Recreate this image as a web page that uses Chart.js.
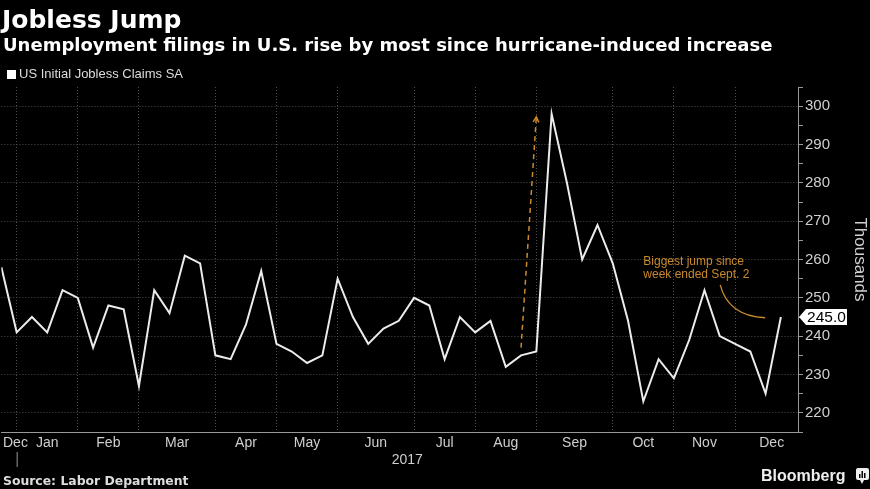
<!DOCTYPE html>
<html><head><meta charset="utf-8">
<script src="https://cdn.jsdelivr.net/npm/chart.js@4/dist/chart.umd.min.js"></script>
<style>
html,body{margin:0;padding:0;background:#000;width:870px;height:489px;overflow:hidden;}
#wrap{position:relative;width:870px;height:489px;background:#000;}
canvas{position:absolute;left:0;top:0;}
.t{position:absolute;white-space:nowrap;line-height:1;}
</style></head><body>
<div id="wrap">
<canvas id="c" width="870" height="489"></canvas>
<div class="t" id="title" style="left:2px;top:5px;font:bold 25px 'DejaVu Sans',sans-serif;color:#fff;">Jobless Jump</div>
<div class="t" id="sub" style="left:3px;top:34px;font:bold 18px 'DejaVu Sans',sans-serif;color:#fff;">Unemployment filings in U.S. rise by most since hurricane-induced increase</div>
<div class="t" id="leg" style="left:7px;top:66px;font:13px 'Liberation Sans',sans-serif;color:#ddd;"><span style="display:inline-block;width:9px;height:9px;background:#fff;margin-right:3px;vertical-align:-1px;"></span>US Initial Jobless Claims SA</div>
<div class="t" id="src" style="left:3px;top:473px;font:bold 12.4px 'DejaVu Sans',sans-serif;color:#ddd;">Source: Labor Department</div>
<div class="t" id="bb" style="left:761px;top:467px;font:bold 16px 'Liberation Sans',sans-serif;color:#eee;">Bloomberg</div>
</div>
<script>
// Weekly US initial jobless claims, thousands (week ended Dec 24 2016 .. Dec 16 2017)
const claims = [258,241,245,241,252,250,237,248,247,227,252,246,261,259,235,234,243,257,238,236,
                233,235,255,245,238,242,244,250,248,234,245,241,244,232,235,236,298,280,260,269,
                259,244,223,234,229,239,252,240,238,236,225,245];
// Month gridlines at these week indices, month labels between them
const gridWeeks = [1,5,9,14,18,22,27,31,35,40,44,48];
const monthLabels = ['Dec','Jan','Feb','Mar','Apr','May','Jun','Jul','Aug','Sep','Oct','Nov','Dec'];
const monthLabelPos = [0.92,3,7,11.5,16,20,24.5,29,33,37.5,42,46,50.4];
const yearLabel = '2017';
const yearStartWeek = 1;
const yTicksMajor = [220,230,240,250,260,270,280,290,300];

const FONT = "'Liberation Sans', sans-serif";
const AX = '#cfcfcf';
const ORANGE = '#c98a2e';

const xTicks = [];
gridWeeks.forEach(v => xTicks.push({value: v, grid: true, label: ''}));
monthLabelPos.forEach((v, i) => xTicks.push({value: v, grid: false, label: monthLabels[i]}));
xTicks.sort((a, b) => a.value - b.value);

const annotation = {
  arrowFrom: {x: 34, y: 237}, arrowTo: {x: 35, y: 297.2},
  textPos: {x: 42.0, y: 259.4},
  textLines: ['Biggest jump since', 'week ended Sept. 2'],
  curveFrom: {x: 47.03, y: 253.4}, curveCtrl: {x: 47.55, y: 245.3}, curveTo: {x: 49.97, y: 244.8}
};

const extras = {
  id: 'extras',
  afterDraw(chart) {
    const {ctx, chartArea, scales: {x, y}} = chart;
    const px = p => [x.getPixelForValue(p.x), y.getPixelForValue(p.y)];
    ctx.save();
    // dashed arrow
    const [ax0, ay0] = px(annotation.arrowFrom), [ax1, ay1] = px(annotation.arrowTo);
    ctx.strokeStyle = ORANGE; ctx.lineWidth = 1.5; ctx.setLineDash([5, 4]);
    ctx.beginPath(); ctx.moveTo(ax0, ay0); ctx.lineTo(ax1, ay1); ctx.stroke();
    ctx.setLineDash([]);
    const ang = Math.atan2(ay1 - ay0, ax1 - ax0);
    ctx.beginPath();
    ctx.moveTo(ax1 - 6 * Math.cos(ang - 0.5), ay1 - 6 * Math.sin(ang - 0.5));
    ctx.lineTo(ax1, ay1);
    ctx.lineTo(ax1 - 6 * Math.cos(ang + 0.5), ay1 - 6 * Math.sin(ang + 0.5));
    ctx.stroke();
    // text
    const [tx, ty] = px(annotation.textPos);
    ctx.fillStyle = ORANGE; ctx.font = '12px ' + FONT; ctx.textBaseline = 'middle'; ctx.textAlign = 'left';
    annotation.textLines.forEach((l, i) => ctx.fillText(l, tx, ty + i * 12.5));
    // curve
    const [c0x, c0y] = px(annotation.curveFrom), [ccx, ccy] = px(annotation.curveCtrl), [c1x, c1y] = px(annotation.curveTo);
    ctx.lineWidth = 1.3;
    ctx.beginPath(); ctx.moveTo(c0x, c0y); ctx.quadraticCurveTo(ccx, ccy, c1x, c1y); ctx.stroke();
    // year separator and label
    const ys = x.getPixelForValue(yearStartWeek);
    ctx.strokeStyle = '#999'; ctx.lineWidth = 1;
    ctx.beginPath(); ctx.moveTo(ys + 0.5, chartArea.bottom + 20); ctx.lineTo(ys + 0.5, chartArea.bottom + 35); ctx.stroke();
    ctx.fillStyle = AX; ctx.font = '14px ' + FONT; ctx.textAlign = 'center';
    ctx.fillText(yearLabel, (ys + chartArea.right) / 2, chartArea.bottom + 28);
    // last value box
    const last = claims[claims.length - 1];
    const bx = chartArea.right + 1, by = y.getPixelForValue(last);
    ctx.fillStyle = '#fff';
    ctx.beginPath();
    ctx.moveTo(bx, by); ctx.lineTo(bx + 7, by - 8); ctx.lineTo(bx + 48, by - 8);
    ctx.lineTo(bx + 48, by + 8); ctx.lineTo(bx + 7, by + 8); ctx.closePath(); ctx.fill();
    ctx.fillStyle = '#000'; ctx.font = '15.5px ' + FONT; ctx.textAlign = 'center';
    ctx.fillText(last.toFixed(1), bx + 27.5, by + 1);
    // bloomberg icon
    ctx.fillStyle = '#eee';
    ctx.beginPath(); ctx.roundRect(856, 468, 13, 12, 2); ctx.fill();
    ctx.beginPath(); ctx.moveTo(860, 480); ctx.lineTo(862, 484); ctx.lineTo(864, 480); ctx.fill();
    ctx.fillStyle = '#000';
    ctx.fillRect(859, 474, 1.5, 4); ctx.fillRect(861.5, 471, 1.5, 7); ctx.fillRect(864, 473, 1.5, 5);
    ctx.restore();
  }
};

new Chart(document.getElementById('c'), {
  type: 'line',
  data: {
    datasets: [{
      label: 'US Initial Jobless Claims SA',
      data: claims.map((v, i) => ({x: i, y: v})),
      borderColor: '#ececec', borderWidth: 2, pointRadius: 0, tension: 0, fill: false
    }]
  },
  options: {
    responsive: false, animation: false,
    layout: {padding: {top: 87, bottom: 27, left: 0, right: 0}},
    plugins: {legend: {display: false}, tooltip: {enabled: false}},
    scales: {
      x: {
        type: 'linear', min: 0, max: 52.12,
        afterBuildTicks: s => { s.ticks = xTicks.map(t => ({value: t.value})); },
        afterFit: s => { s.height = 30; },
        ticks: {autoSkip: false, maxRotation: 0, color: AX, padding: 3, font: {family: FONT, size: 14},
                callback: (v, i) => xTicks[i].label},
        grid: {color: c => (xTicks[c.index] && xTicks[c.index].grid) ? '#4d4d4d' : 'transparent', drawTicks: false, lineWidth: 1},
        border: {color: '#999', dash: [1, 2]}
      },
      y: {
        position: 'right', min: 215, max: 305,
        afterBuildTicks: s => {
          const t = [];
          for (let v = s.min; v <= s.max; v += 5) t.push({value: v});
          s.ticks = t;
        },
        afterFit: s => { s.width = 72; },
        ticks: {autoSkip: false, color: AX, padding: 2, font: {family: FONT, size: 15},
                callback: v => yTicksMajor.includes(v) ? String(v) : ''},
        grid: {color: c => yTicksMajor.includes(c.tick && c.tick.value) ? '#4d4d4d' : 'transparent',
               tickColor: '#999', tickLength: 5, drawTicks: true},
        border: {color: '#999', dash: [1, 2]},
        title: {display: true, text: 'Thousands', color: AX, font: {family: FONT, size: 17}, padding: {top: 0, bottom: 2}}
      }
    }
  },
  plugins: [extras]
});
</script>
</body></html>
